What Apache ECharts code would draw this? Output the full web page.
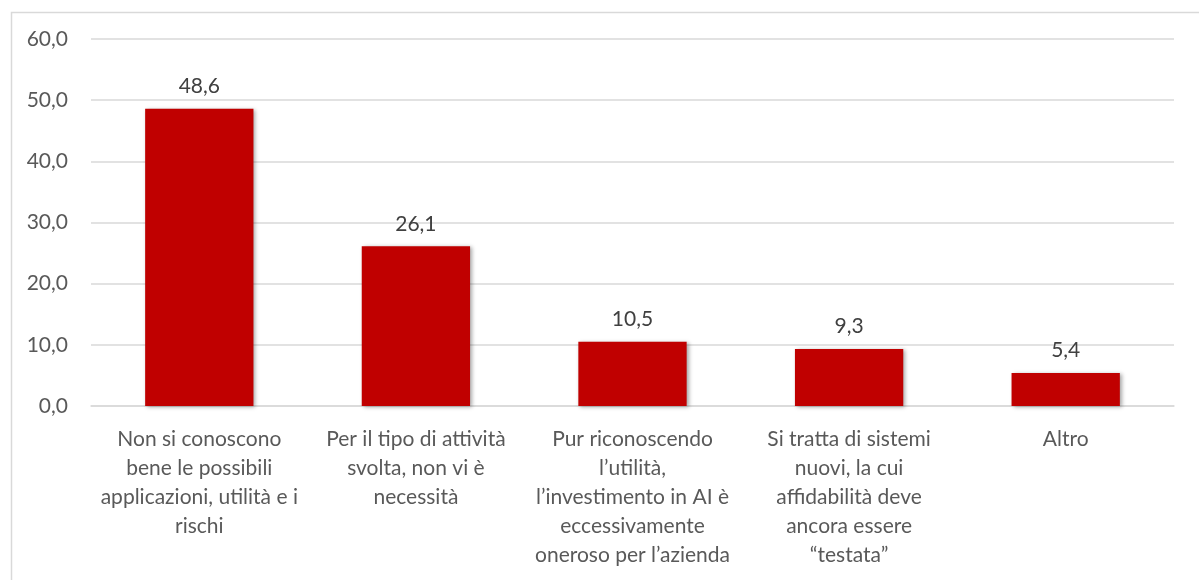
<!DOCTYPE html>
<html>
<head>
<meta charset="utf-8">
<script src="https://cdn.jsdelivr.net/npm/echarts@6/dist/echarts.min.js"></script>
<style>
html,body{margin:0;padding:0;background:#fff;}
#chart{width:1199px;height:580px;}
</style>
</head>
<body>
<div id="chart"></div>
<script>
const categories = [
  "Non si conoscono\nbene le possibili\napplicazioni, utilità e i\nrischi",
  "Per il tipo di attività\nsvolta, non vi è\nnecessità",
  "Pur riconoscendo\nl’utilità,\nl’investimento in AI è\neccessivamente\noneroso per l’azienda",
  "Si tratta di sistemi\nnuovi, la cui\naffidabilità deve\nancora essere\n“testata”",
  "Altro"
];
const values = [48.6, 26.1, 10.5, 9.3, 5.4];

const fmt = v => Number(v).toFixed(1).replace('.', ',');
const FONT = 'Lato, "Open Sans", sans-serif';

const chart = echarts.init(document.getElementById('chart'), null, {renderer: 'canvas'});
chart.setOption({
  animation: false,
  backgroundColor: '#ffffff',
  textStyle: {fontFamily: FONT},
  graphic: [{
    type: 'rect', left: 9, top: 10, z: -1,
    shape: {x: 0, y: 0, width: 1300, height: 700},
    style: {fill: 'none', stroke: '#d9d9d9', lineWidth: 1.5}
  }],
  grid: {left: 91, right: 25, top: 39, bottom: 174, containLabel: false},
  xAxis: {
    type: 'category',
    data: categories,
    axisLine: {lineStyle: {color: '#d9d9d9', width: 1.5}},
    axisTick: {show: false},
    axisLabel: {interval: 0, color: '#595959', fontSize: 21, lineHeight: 29, margin: 19, fontFamily: FONT}
  },
  yAxis: {
    type: 'value', min: 0, max: 60, interval: 10,
    axisLine: {show: false},
    axisTick: {show: false},
    splitLine: {lineStyle: {color: '#d9d9d9', width: 1.5}},
    axisLabel: {color: '#595959', fontSize: 21, margin: 23, formatter: fmt, fontFamily: FONT}
  },
  series: [{
    type: 'bar',
    data: values,
    barWidth: '50%',
    itemStyle: {color: '#C00000', shadowColor: 'rgba(0,0,0,0.35)', shadowBlur: 4, shadowOffsetX: 2, shadowOffsetY: 1},
    label: {show: true, position: 'top', distance: 12, color: '#404040', fontSize: 21, formatter: p => fmt(p.value), fontFamily: FONT}
  }]
});
</script>
</body>
</html>
